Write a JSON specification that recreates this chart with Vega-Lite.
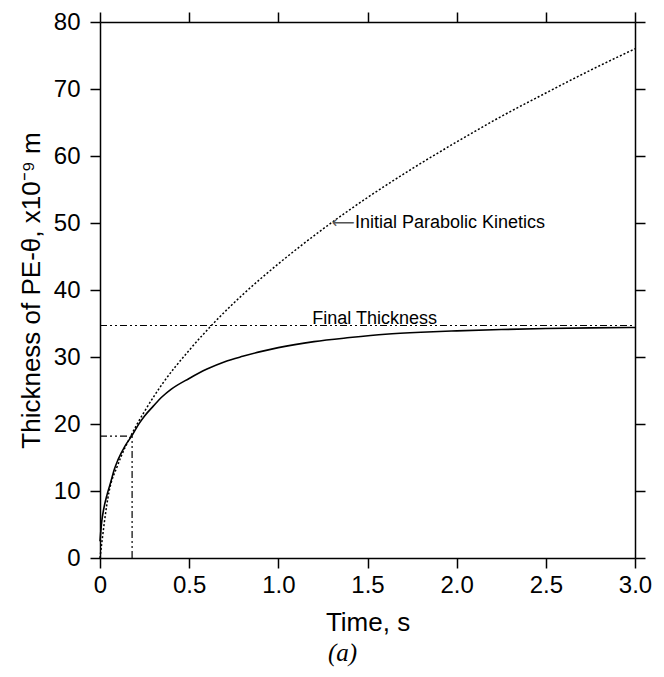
{
  "$schema": "https://vega.github.io/schema/vega-lite/v6.json",
  "width": 535,
  "height": 536,
  "autosize": {"type": "none"},
  "padding": {"left": 100, "top": 22, "right": 29, "bottom": 119},
  "background": "white",
  "config": {
    "view": {"stroke": null},
    "font": "Liberation Sans",
    "axis": {
      "grid": false,
      "domainColor": "black",
      "domainWidth": 1.5,
      "tickColor": "black",
      "tickWidth": 1.5,
      "tickSize": 10,
      "labelColor": "black",
      "titleColor": "black",
      "labelFont": "Liberation Sans",
      "titleFont": "Liberation Sans",
      "labelFontSize": 24,
      "titleFontSize": 26,
      "titleFontWeight": "normal"
    }
  },
  "title": {
    "text": "(a)",
    "orient": "bottom",
    "anchor": "middle",
    "font": "Liberation Serif",
    "fontStyle": "italic",
    "fontWeight": "normal",
    "fontSize": 25,
    "color": "black",
    "dx": -25,
    "offset": 6
  },
  "datasets": {
    "solid": [
      {"t": 0, "v": 2.5}, {"t": 0.01, "v": 5.5}, {"t": 0.02, "v": 7.2}, {"t": 0.04, "v": 9.5},
      {"t": 0.06, "v": 11.3}, {"t": 0.08, "v": 13.2}, {"t": 0.1, "v": 14.6}, {"t": 0.14, "v": 16.7},
      {"t": 0.18, "v": 18.3}, {"t": 0.22, "v": 20.1}, {"t": 0.25, "v": 21.2}, {"t": 0.3, "v": 22.7},
      {"t": 0.35, "v": 24.1}, {"t": 0.4, "v": 25.2}, {"t": 0.5, "v": 26.8}, {"t": 0.6, "v": 28.2},
      {"t": 0.7, "v": 29.3}, {"t": 0.8, "v": 30.1}, {"t": 0.9, "v": 30.8}, {"t": 1.0, "v": 31.4},
      {"t": 1.2, "v": 32.3}, {"t": 1.4, "v": 32.9}, {"t": 1.6, "v": 33.4}, {"t": 1.8, "v": 33.7},
      {"t": 2.0, "v": 33.9}, {"t": 2.25, "v": 34.1}, {"t": 2.5, "v": 34.25}, {"t": 2.75, "v": 34.35},
      {"t": 3.0, "v": 34.4}
    ],
    "dotted": [
      {"t": 0, "v": 0}, {"t": 0.05, "v": 9.8}, {"t": 0.1, "v": 13.9}, {"t": 0.18, "v": 18.6},
      {"t": 0.25, "v": 21.9}, {"t": 0.35, "v": 26.0}, {"t": 0.5, "v": 31.0}, {"t": 0.65, "v": 35.4},
      {"t": 0.8, "v": 39.3}, {"t": 1.0, "v": 43.9}, {"t": 1.25, "v": 49.1}, {"t": 1.5, "v": 53.8},
      {"t": 1.75, "v": 58.1}, {"t": 2.0, "v": 62.1}, {"t": 2.25, "v": 65.9}, {"t": 2.5, "v": 69.4},
      {"t": 2.75, "v": 72.8}, {"t": 3.0, "v": 76.0}
    ],
    "refs": [
      {"x": 0, "x2": 3.0, "y": 34.7, "y2": 34.7},
      {"x": 0, "x2": 0.18, "y": 18.2, "y2": 18.2},
      {"x": 0.18, "x2": 0.18, "y": 0, "y2": 18.2}
    ],
    "labels": [
      {"t": 1.43, "v": 50.0, "label": "Initial Parabolic Kinetics"}
    ],
    "labels2": [
      {"t": 1.19, "v": 34.9, "label": "Final Thickness"}
    ],
    "arrows": [
      {"t": 1.3, "v": 50.0, "label": "⟵"}
    ]
  },
  "layer": [
    {
      "data": {"name": "refs"},
      "mark": {"type": "rule", "color": "black", "strokeWidth": 1.2, "strokeDash": [7, 3, 2, 3, 2, 3]},
      "encoding": {
        "x": {"field": "x", "type": "quantitative", "scale": {"domain": [0, 3]},
          "axis": {"orient": "bottom", "values": [0, 0.5, 1, 1.5, 2, 2.5, 3], "labelExpr": "datum.value == 0 ? '0' : format(datum.value, '.1f')", "title": "Time, s", "labelPadding": 5, "titlePadding": 12, "labelFlush": false}},
        "x2": {"field": "x2"},
        "y": {"field": "y", "type": "quantitative", "scale": {"domain": [0, 80]},
          "axis": {"orient": "left", "values": [0, 10, 20, 30, 40, 50, 60, 70, 80], "title": "Thickness of PE-θ, x10⁻⁹ m", "labelPadding": 10, "titlePadding": 9, "labelFlush": false}},
        "y2": {"field": "y2"}
      }
    },
    {
      "data": {"name": "dotted"},
      "mark": {"type": "line", "color": "black", "strokeWidth": 1.5, "strokeDash": [2, 2], "interpolate": "monotone"},
      "encoding": {
        "x": {"field": "t", "type": "quantitative", "axis": {"orient": "top", "values": [0, 0.5, 1, 1.5, 2, 2.5, 3], "labels": false, "title": null}},
        "y": {"field": "v", "type": "quantitative", "axis": {"orient": "right", "values": [0, 10, 20, 30, 40, 50, 60, 70, 80], "labels": false, "title": null}}
      }
    },
    {
      "data": {"name": "solid"},
      "mark": {"type": "line", "color": "black", "strokeWidth": 1.6, "interpolate": "monotone"},
      "encoding": {
        "x": {"field": "t", "type": "quantitative", "axis": null},
        "y": {"field": "v", "type": "quantitative", "axis": null}
      }
    },
    {
      "data": {"name": "labels"},
      "mark": {"type": "text", "align": "left", "baseline": "middle", "font": "Liberation Sans", "fontSize": 18, "color": "black"},
      "encoding": {
        "x": {"field": "t", "type": "quantitative", "axis": null},
        "y": {"field": "v", "type": "quantitative", "axis": null},
        "text": {"field": "label"}
      }
    },
    {
      "data": {"name": "labels2"},
      "mark": {"type": "text", "align": "left", "baseline": "alphabetic", "font": "Liberation Sans", "fontSize": 18, "color": "black"},
      "encoding": {
        "x": {"field": "t", "type": "quantitative", "axis": null},
        "y": {"field": "v", "type": "quantitative", "axis": null},
        "text": {"field": "label"}
      }
    },
    {
      "data": {"name": "arrows"},
      "mark": {"type": "text", "align": "left", "baseline": "middle", "font": "DejaVu Sans", "fontSize": 16, "color": "#555555"},
      "encoding": {
        "x": {"field": "t", "type": "quantitative", "axis": null},
        "y": {"field": "v", "type": "quantitative", "axis": null},
        "text": {"field": "label"}
      }
    }
  ],
  "resolve": {"axis": {"x": "independent", "y": "independent"}}
}
